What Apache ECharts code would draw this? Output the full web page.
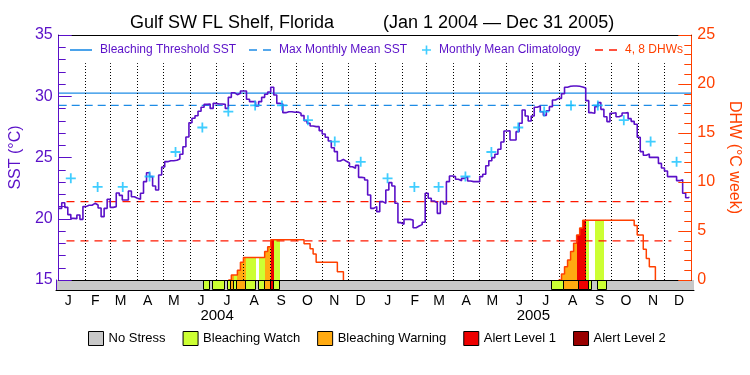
<!DOCTYPE html>
<html><head><meta charset="utf-8">
<script src="https://cdn.jsdelivr.net/npm/echarts@6/dist/echarts.min.js"></script>
<style>html,body{margin:0;padding:0;background:#fff}#c{width:750px;height:375px}</style>
</head><body><div id="c"></div>
<script>
// ---------------- data ----------------
const STEP_DAYS = 3.5; // twice-weekly samples starting Jan 1 2004
const monthLetters = ['J','F','M','A','M','J','J','A','S','O','N','D'];
const monthDays2004 = [31,29,31,30,31,30,31,31,30,31,30,31];
const monthDays2005 = [31,28,31,30,31,30,31,31,30,31,30,31];
const yearLabels = ['2004','2005'];

const sst = [
20.85,21.31,20.93,20.34,20.03,20.01,20.31,19.95,20.99,21.10,
21.10,21.26,21.12,20.88,20.17,20.85,21.59,20.93,20.99,22.10,
21.91,21.53,21.53,22.27,21.80,21.67,21.59,22.08,23.03,23.76,
23.44,22.67,22.35,23.57,24.22,24.66,24.74,24.74,24.77,24.88,
25.26,25.88,26.67,27.84,28.20,28.41,28.77,29.10,29.34,29.37,
29.01,29.42,29.37,29.37,29.34,29.01,29.91,30.29,30.13,30.24,
30.43,30.43,29.75,29.56,29.56,29.20,29.56,29.91,30.16,30.35,
30.73,30.10,29.42,29.37,28.66,28.74,28.74,28.69,28.71,28.61,
28.42,28.01,27.79,27.57,27.52,27.52,27.19,26.92,26.65,26.35,
25.80,25.48,24.71,24.85,24.69,24.55,24.25,24.12,24.36,23.38,
23.35,23.16,21.94,20.85,20.99,20.58,21.40,21.26,22.35,22.95,
22.67,21.26,19.68,19.55,19.95,19.95,19.90,19.27,19.41,19.52,
19.71,22.08,21.67,21.45,21.31,20.44,21.40,21.20,23.03,23.49,
23.44,23.22,23.11,23.30,23.44,23.08,23.03,23.03,23.03,23.44,
23.63,24.33,24.74,24.99,25.26,25.67,26.27,27.16,27.19,26.43,
26.43,27.11,27.79,28.88,28.39,27.98,28.39,29.10,29.20,28.74,
28.44,28.82,29.15,29.69,29.83,29.83,30.21,30.73,30.81,30.84,
30.84,30.81,30.76,30.67,29.64,28.66,28.61,29.15,29.48,28.93,
28.33,27.93,28.61,28.66,28.33,28.42,28.63,28.66,28.17,27.95,
27.71,26.65,25.48,25.18,25.29,25.01,25.01,25.01,24.52,24.14,
23.90,23.44,23.44,23.44,23.11,23.19,22.08,21.72,21.80
];
const climatology = [23.3,22.6,22.6,23.45,25.45,27.45,28.75,29.25,29.25,28.05,26.3,24.65];
const maxMonthlyMean = 29.25;
const bleachingThreshold = 30.25;
const dhwRefLevels = [4, 8];
const dhwRefSpanDays = [9, 708];

const dhw2004Start = 56;
const dhw2004 = [0,0.5,0.5,1.0,1.8,2.3,2.3,2.3,2.3,2.3,2.3,2.3,2.9,3.4,
  4.1,4.1,4.1,4.1,4.1,4.1,4.1,4.1,4.1,4.1,4.1,3.7,3.7,3.2,2.65,
  1.8,1.8,1.8,1.8,1.8,1.8,1.8,0.85,0.85,0];
const dhw2005Start = 165;
const dhw2005 = [0,0.6,1.35,2.05,2.9,3.75,4.6,5.3,
  6.1,6.1,6.1,6.1,6.1,6.1,6.1,6.1,6.1,6.1,6.1,6.1,6.1,6.1,6.1,6.1,6.1,
  5.55,4.6,4.6,3.15,2.2,1.35,1.35,0];

// alert level by sample index (all other samples: No Stress)
const watchIdx   = [48,49,51,52,53,54,56,58,62,63,64,66,67,71,72,162,163,164,165,174,177,178,179];
const warningIdx = [57,59,60,61,68,69,166,167,168,169,170];
const alert1Idx  = [70,171,172,173];
const alert2Idx  = [];

const levelNames  = ['No Stress','Bleaching Watch','Bleaching Warning','Alert Level 1','Alert Level 2'];
const levelColors = ['#c8c8c8','#ccff33','#ffaa11','#ee0000','#990000'];

// ---------------- derived ----------------
const FONT = "'Liberation Sans', Arial, sans-serif";
const PURPLE = '#5a10c8', ORANGE = '#ff4000', BLUE = '#1e8ce6', CYAN = '#10c0ff', RED = '#ff1800';
const monthDays = monthDays2004.concat(monthDays2005);
const totalDays = monthDays.reduce((a, b) => a + b, 0);
const monthStart = []; let acc = 0;
monthDays.forEach(n => { monthStart.push(acc); acc += n; });
const monthMid = monthStart.map(s => s + 14);
const yearMid = [monthDays2004.reduce((a,b)=>a+b,0) / 2, monthDays2004.reduce((a,b)=>a+b,0) + monthDays2005.reduce((a,b)=>a+b,0) / 2];
const dayOf = i => Math.min(i * STEP_DAYS, totalDays);
const N = sst.length;

const sstData = sst.map((v, i) => [dayOf(i), v]);
const climData = monthMid.map((d, k) => [d, climatology[k % 12]]);
const dhwAll = new Array(N).fill(0);
dhw2004.forEach((v, k) => dhwAll[dhw2004Start + k] = v);
dhw2005.forEach((v, k) => dhwAll[dhw2005Start + k] = v);
const dhwSeg = (start, vals) => vals.map((v, k) => [dayOf(start + k), v]);

const level = new Array(N).fill(0);
watchIdx.forEach(i => level[i] = 1);
warningIdx.forEach(i => level[i] = 2);
alert1Idx.forEach(i => level[i] = 3);
alert2Idx.forEach(i => level[i] = 4);

// runs of equal level for the status strip
const runs = [];
for (let i = 0; i < N; ) {
  let j = i; while (j + 1 < N && level[j + 1] === level[i]) j++;
  runs.push([dayOf(i), j + 1 < N ? dayOf(j + 1) : totalDays, level[i]]);
  i = j + 1;
}
// filled bars under DHW, per sample
const fills = levelNames.map(() => []);
for (let i = 0; i < N; i++) {
  if (level[i] > 0 && dhwAll[i] > 0) fills[level[i]].push([dayOf(i), dayOf(i + 1), dhwAll[i]]);
}

function fillItem(params, api) {
  const a = api.coord([api.value(0), api.value(2)]);
  const b = api.coord([api.value(1), 0]);
  const x0 = Math.round(a[0]), x1 = Math.round(b[0]);
  return { type: 'rect', shape: { x: x0, y: a[1], width: x1 - x0, height: b[1] - a[1] },
           style: { fill: api.visual('color') } };
}
function stripItem(params, api) {
  const a = api.coord([api.value(0), 1]);
  const b = api.coord([api.value(1), 0]);
  const x0 = Math.round(a[0]), x1 = Math.round(b[0]);
  const bordered = api.value(2) > 0;
  const o = bordered ? 0.5 : 0;
  return { type: 'rect', shape: { x: x0 + o, y: Math.round(a[1]) + o, width: x1 - x0, height: Math.round(b[1]) - Math.round(a[1]) - (bordered ? 1 : 0) },
           style: { fill: api.visual('color'), stroke: bordered ? '#000' : null, lineWidth: 1 } };
}

const monthLines = monthStart.slice(1).map(d => [{ coord: [d, 15] }, { coord: [d, 32.7] }]);

const series = [
  { name: 'SST', type: 'line', xAxisIndex: 0, yAxisIndex: 0, data: sstData, step: 'end', symbol: 'none',
    lineStyle: { color: PURPLE, width: 1.6 }, itemStyle: { color: PURPLE }, z: 6,
    markLine: { silent: true, symbol: ['none', 'none'], label: { show: false }, animation: false,
      lineStyle: { color: '#000', type: [1, 2], width: 1 }, data: monthLines } },
  { name: 'Bleaching Threshold SST', type: 'line', xAxisIndex: 0, yAxisIndex: 0, symbol: 'none',
    data: [[0, bleachingThreshold], [totalDays, bleachingThreshold]],
    lineStyle: { color: BLUE, width: 1.3 }, itemStyle: { color: BLUE }, z: 4 },
  { name: 'Max Monthly Mean SST', type: 'line', xAxisIndex: 0, yAxisIndex: 0, symbol: 'none',
    data: [[0, maxMonthlyMean], [totalDays, maxMonthlyMean]],
    lineStyle: { color: BLUE, width: 1.3, type: [8, 5] }, itemStyle: { color: BLUE }, z: 4 },
  { name: 'Monthly Mean Climatology', type: 'scatter', xAxisIndex: 0, yAxisIndex: 0,
    symbol: 'path://M3.7,0H5.3V9H3.7ZM0,3.7H9V5.3H0Z', symbolSize: 10, data: climData,
    itemStyle: { color: CYAN }, z: 7 }
];
dhwRefLevels.forEach(lv => series.push({
  name: '4, 8 DHWs', type: 'line', xAxisIndex: 0, yAxisIndex: 1, symbol: 'none',
  data: [[dhwRefSpanDays[0], lv], [dhwRefSpanDays[1], lv]],
  lineStyle: { color: RED, width: 1.3, type: [8, 6] }, itemStyle: { color: RED }, z: 4 }));
[[dhw2004Start, dhw2004], [dhw2005Start, dhw2005]].forEach(([s, v]) => series.push({
  name: 'DHW', type: 'line', xAxisIndex: 0, yAxisIndex: 1, symbol: 'none', step: 'end',
  data: dhwSeg(s, v), lineStyle: { color: ORANGE, width: 1.5 }, itemStyle: { color: ORANGE }, z: 5 }));
levelNames.forEach((nm, k) => {
  series.push({ name: nm, type: 'custom', xAxisIndex: 0, yAxisIndex: 1, renderItem: fillItem,
    encode: { x: [0, 1], y: 2 }, data: fills[k], itemStyle: { color: levelColors[k] }, z: 2 });
  series.push({ name: nm, type: 'custom', xAxisIndex: 2, yAxisIndex: 2, renderItem: stripItem,
    encode: { x: [0, 1] }, data: runs.filter(r => r[2] === k), itemStyle: { color: levelColors[k] }, z: 2 });
});

const lineIcon = 'path://M0,0H22V1.6H0Z';
const dashIcon = 'path://M0,0H8V1.6H0ZM14,0H22V1.6H14Z';
const plusIcon = 'path://M3.7,0H5.3V9H3.7ZM0,3.7H9V5.3H0Z';
function topLegend(name, icon, left, iconColor, textColor, w) {
  return { data: [{ name, icon }], left, top: 44, padding: 0, itemWidth: w, itemHeight: 9,
    selectedMode: false, itemStyle: { color: iconColor },
    textStyle: { color: textColor, fontSize: 12, fontFamily: FONT, padding: [0, 0, 0, 3] } };
}

const axisCommon = { type: 'value', min: 0, max: totalDays, splitLine: { show: false }, axisTick: { show: false }, z: 10 };
const option = {
  animation: false,
  backgroundColor: '#fff',
  title: [
    { text: 'Gulf SW FL Shelf, Florida', left: 125, top: 9, textStyle: { fontSize: 18, fontWeight: 'normal', color: '#000', fontFamily: FONT } },
    { text: '(Jan 1 2004 \u2014 Dec 31 2005)', left: 378, top: 9, textStyle: { fontSize: 18, fontWeight: 'normal', color: '#000', fontFamily: FONT } }
  ],
  legend: [
    topLegend('Bleaching Threshold SST', lineIcon, 70, BLUE, PURPLE, 22),
    topLegend('Max Monthly Mean SST', dashIcon, 249, BLUE, PURPLE, 22),
    topLegend('Monthly Mean Climatology', plusIcon, 422, CYAN, PURPLE, 9),
    topLegend('4, 8 DHWs', dashIcon, 595, RED, ORANGE, 22),
    { data: levelNames, left: 88, top: 331, padding: 0, itemWidth: 15, itemHeight: 14, itemGap: 17,
      icon: 'rect', selectedMode: false, itemStyle: { borderColor: '#000', borderWidth: 1 },
      textStyle: { color: '#000', fontSize: 13, fontFamily: FONT } }
  ],
  grid: [
    { left: 56, right: 56, top: 35, height: 245 },
    { left: 56, right: 56, top: 280, height: 10 }
  ],
  xAxis: [
    Object.assign({}, axisCommon, { gridIndex: 0, position: 'bottom',
      axisLine: { show: true, onZero: false, lineStyle: { color: '#000', width: 1 } },
      axisLabel: { show: true, customValues: yearMid, formatter: v => yearLabels[yearMid.indexOf(v)] || '',
        margin: 28, fontSize: 15, color: '#000', fontFamily: FONT } }),
    Object.assign({}, axisCommon, { gridIndex: 0, position: 'top',
      axisLine: { show: true, onZero: false, lineStyle: { color: '#000', width: 1 } }, axisLabel: { show: false } }),
    Object.assign({}, axisCommon, { gridIndex: 1, position: 'bottom',
      axisLine: { show: true, onZero: false, lineStyle: { color: '#000', width: 1 } },
      axisLabel: { show: true, customValues: monthMid, formatter: v => { const k = monthMid.indexOf(v); return k < 0 ? '' : monthLetters[k % 12]; },
        margin: 4, fontSize: 14, color: '#000', fontFamily: FONT } })
  ],
  yAxis: [
    { gridIndex: 0, type: 'value', min: 15, max: 35, interval: 5, position: 'left',
      name: 'SST (\u00b0C)', nameLocation: 'middle', nameGap: 32, nameRotate: 90,
      nameTextStyle: { color: PURPLE, fontSize: 16, fontFamily: FONT },
      axisLine: { show: true, onZero: false, lineStyle: { color: PURPLE } },
      axisTick: { show: true, inside: true, length: 13, lineStyle: { color: PURPLE } },
      minorTick: { show: true, splitNumber: 5, length: 7, lineStyle: { color: PURPLE } },
      axisLabel: { color: PURPLE, fontSize: 16, margin: 6, fontFamily: FONT },
      splitLine: { show: false }, z: 10 },
    { gridIndex: 0, type: 'value', min: 0, max: 25, interval: 5, position: 'right',
      name: 'DHW (\u00b0C week)', nameLocation: 'middle', nameGap: 27, nameRotate: -90,
      nameTextStyle: { color: ORANGE, fontSize: 16, fontFamily: FONT },
      axisLine: { show: true, onZero: false, lineStyle: { color: ORANGE } },
      axisTick: { show: true, inside: true, length: 13, lineStyle: { color: ORANGE } },
      minorTick: { show: true, splitNumber: 5, length: 7, lineStyle: { color: ORANGE } },
      axisLabel: { color: ORANGE, fontSize: 16, margin: 6, fontFamily: FONT },
      splitLine: { show: false }, z: 10 },
    { gridIndex: 1, type: 'value', min: 0, max: 1, position: 'left',
      axisLine: { show: true, onZero: false, lineStyle: { color: PURPLE } },
      axisTick: { show: false }, axisLabel: { show: false }, splitLine: { show: false }, z: 10 }
  ],
  series
};
const chart = echarts.init(document.getElementById('c'), null, { renderer: 'canvas' });
chart.setOption(option);
</script>
</body></html>
